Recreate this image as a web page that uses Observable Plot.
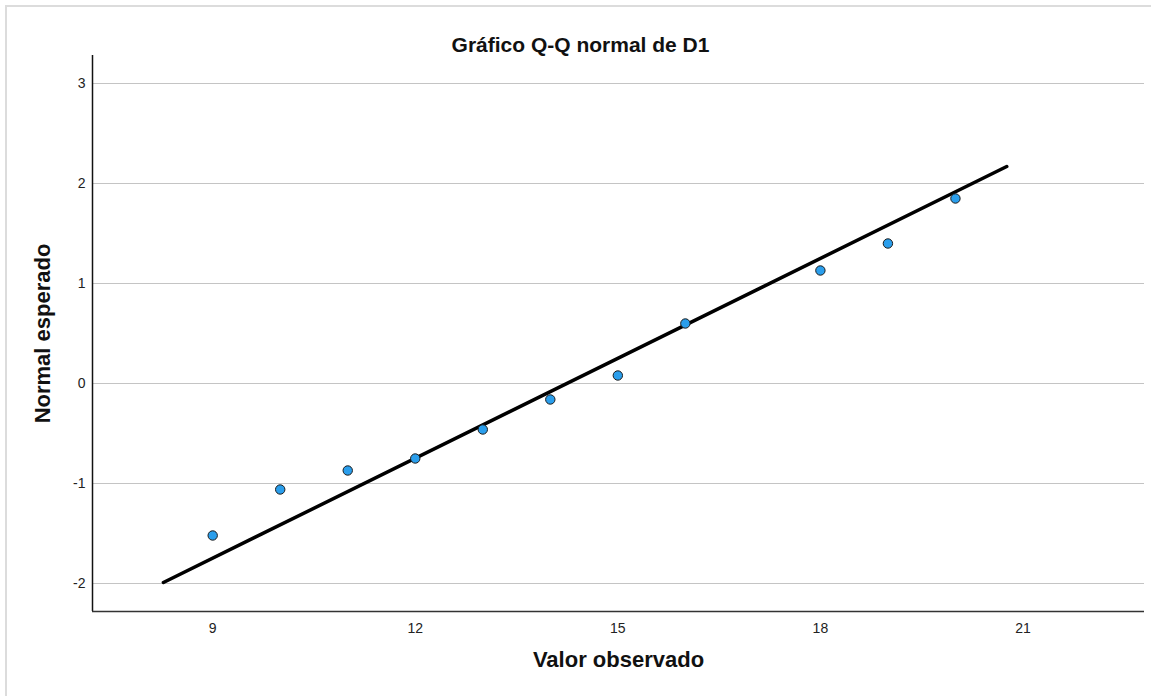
<!DOCTYPE html>
<html>
<head>
<meta charset="utf-8">
<script src="https://cdn.jsdelivr.net/npm/d3@7"></script>
<script src="https://cdn.jsdelivr.net/npm/@observablehq/plot@0.6"></script>
<style>
  html, body { margin: 0; padding: 0; background: #fff; }
  #wrap { position: relative; width: 1151px; height: 696px; overflow: hidden; }
  #border { position: absolute; left: 5px; top: 5px; width: 1200px; height: 800px;
            border-left: 2px solid #dcdcdc; border-top: 2px solid #dcdcdc; pointer-events: none; }
  #chart { position: absolute; left: 0; top: 0; }
</style>
</head>
<body>
<div id="wrap"><div id="chart"></div><div id="border"></div></div>
<script>
const title = "Gráfico Q-Q normal de D1";
const xLabel = "Valor observado";
const yLabel = "Normal esperado";

// Observed values and expected normal quantiles
const observed = [9, 10, 11, 12, 13, 14, 15, 16, 18, 19, 20];
const expected = [-1.52, -1.06, -0.87, -0.75, -0.46, -0.16, 0.08, 0.60, 1.13, 1.40, 1.85];

// Reference line endpoints
const lineX = [8.27, 20.76];
const lineY = [-1.99, 2.17];

const xTicks = [9, 12, 15, 18, 21];
const yTicks = [-2, -1, 0, 1, 2, 3];

const xDomain = [7.22, 22.8];
const yDomain = [-2.28, 3.28];

const points = observed.map((v, i) => ({x: v, y: expected[i]}));
const line = lineX.map((v, i) => ({x: v, y: lineY[i]}));

const chart = Plot.plot({
  width: 1151,
  height: 696,
  marginLeft: 92,
  marginRight: 7,
  marginTop: 55,
  marginBottom: 85,
  style: {fontFamily: "'Liberation Sans', Arial, sans-serif", background: "#fff", color: "#222", fontSize: "14px"},
  x: {domain: xDomain},
  y: {domain: yDomain},
  marks: [
    Plot.gridY(yTicks, {stroke: "#c4c4c4", strokeOpacity: 1, strokeWidth: 1}),
    Plot.axisX(xTicks, {tickSize: 0, tickPadding: 12, fontSize: 14, label: null, fill: "#222", tickFormat: d => String(d)}),
    Plot.axisY(yTicks, {tickSize: 0, tickPadding: 7, fontSize: 14, label: null, fill: "#222", tickFormat: d => String(d)}),
    Plot.ruleX([xDomain[0]], {stroke: "#111", strokeWidth: 1.5}),
    Plot.ruleY([yDomain[0]], {stroke: "#333", strokeWidth: 1.5}),
    Plot.line(line, {x: "x", y: "y", stroke: "#000", strokeWidth: 3.5}),
    Plot.dot(points, {x: "x", y: "y", r: 4.7, fill: "#2a9eec", stroke: "#1a1a1a", strokeWidth: 1}),
    Plot.text([title], {frameAnchor: "top", textAnchor: "middle", dx: -38, dy: -18, fontSize: 21, fontWeight: "bold", fill: "#111"}),
    Plot.text([xLabel], {frameAnchor: "bottom", textAnchor: "middle", dy: 55, fontSize: 22, fontWeight: "bold", fill: "#111"}),
    Plot.text([yLabel], {frameAnchor: "left", textAnchor: "middle", dx: -50, rotate: -90, fontSize: 22, fontWeight: "bold", fill: "#111"})
  ]
});
document.getElementById("chart").appendChild(chart);
</script>
</body>
</html>
